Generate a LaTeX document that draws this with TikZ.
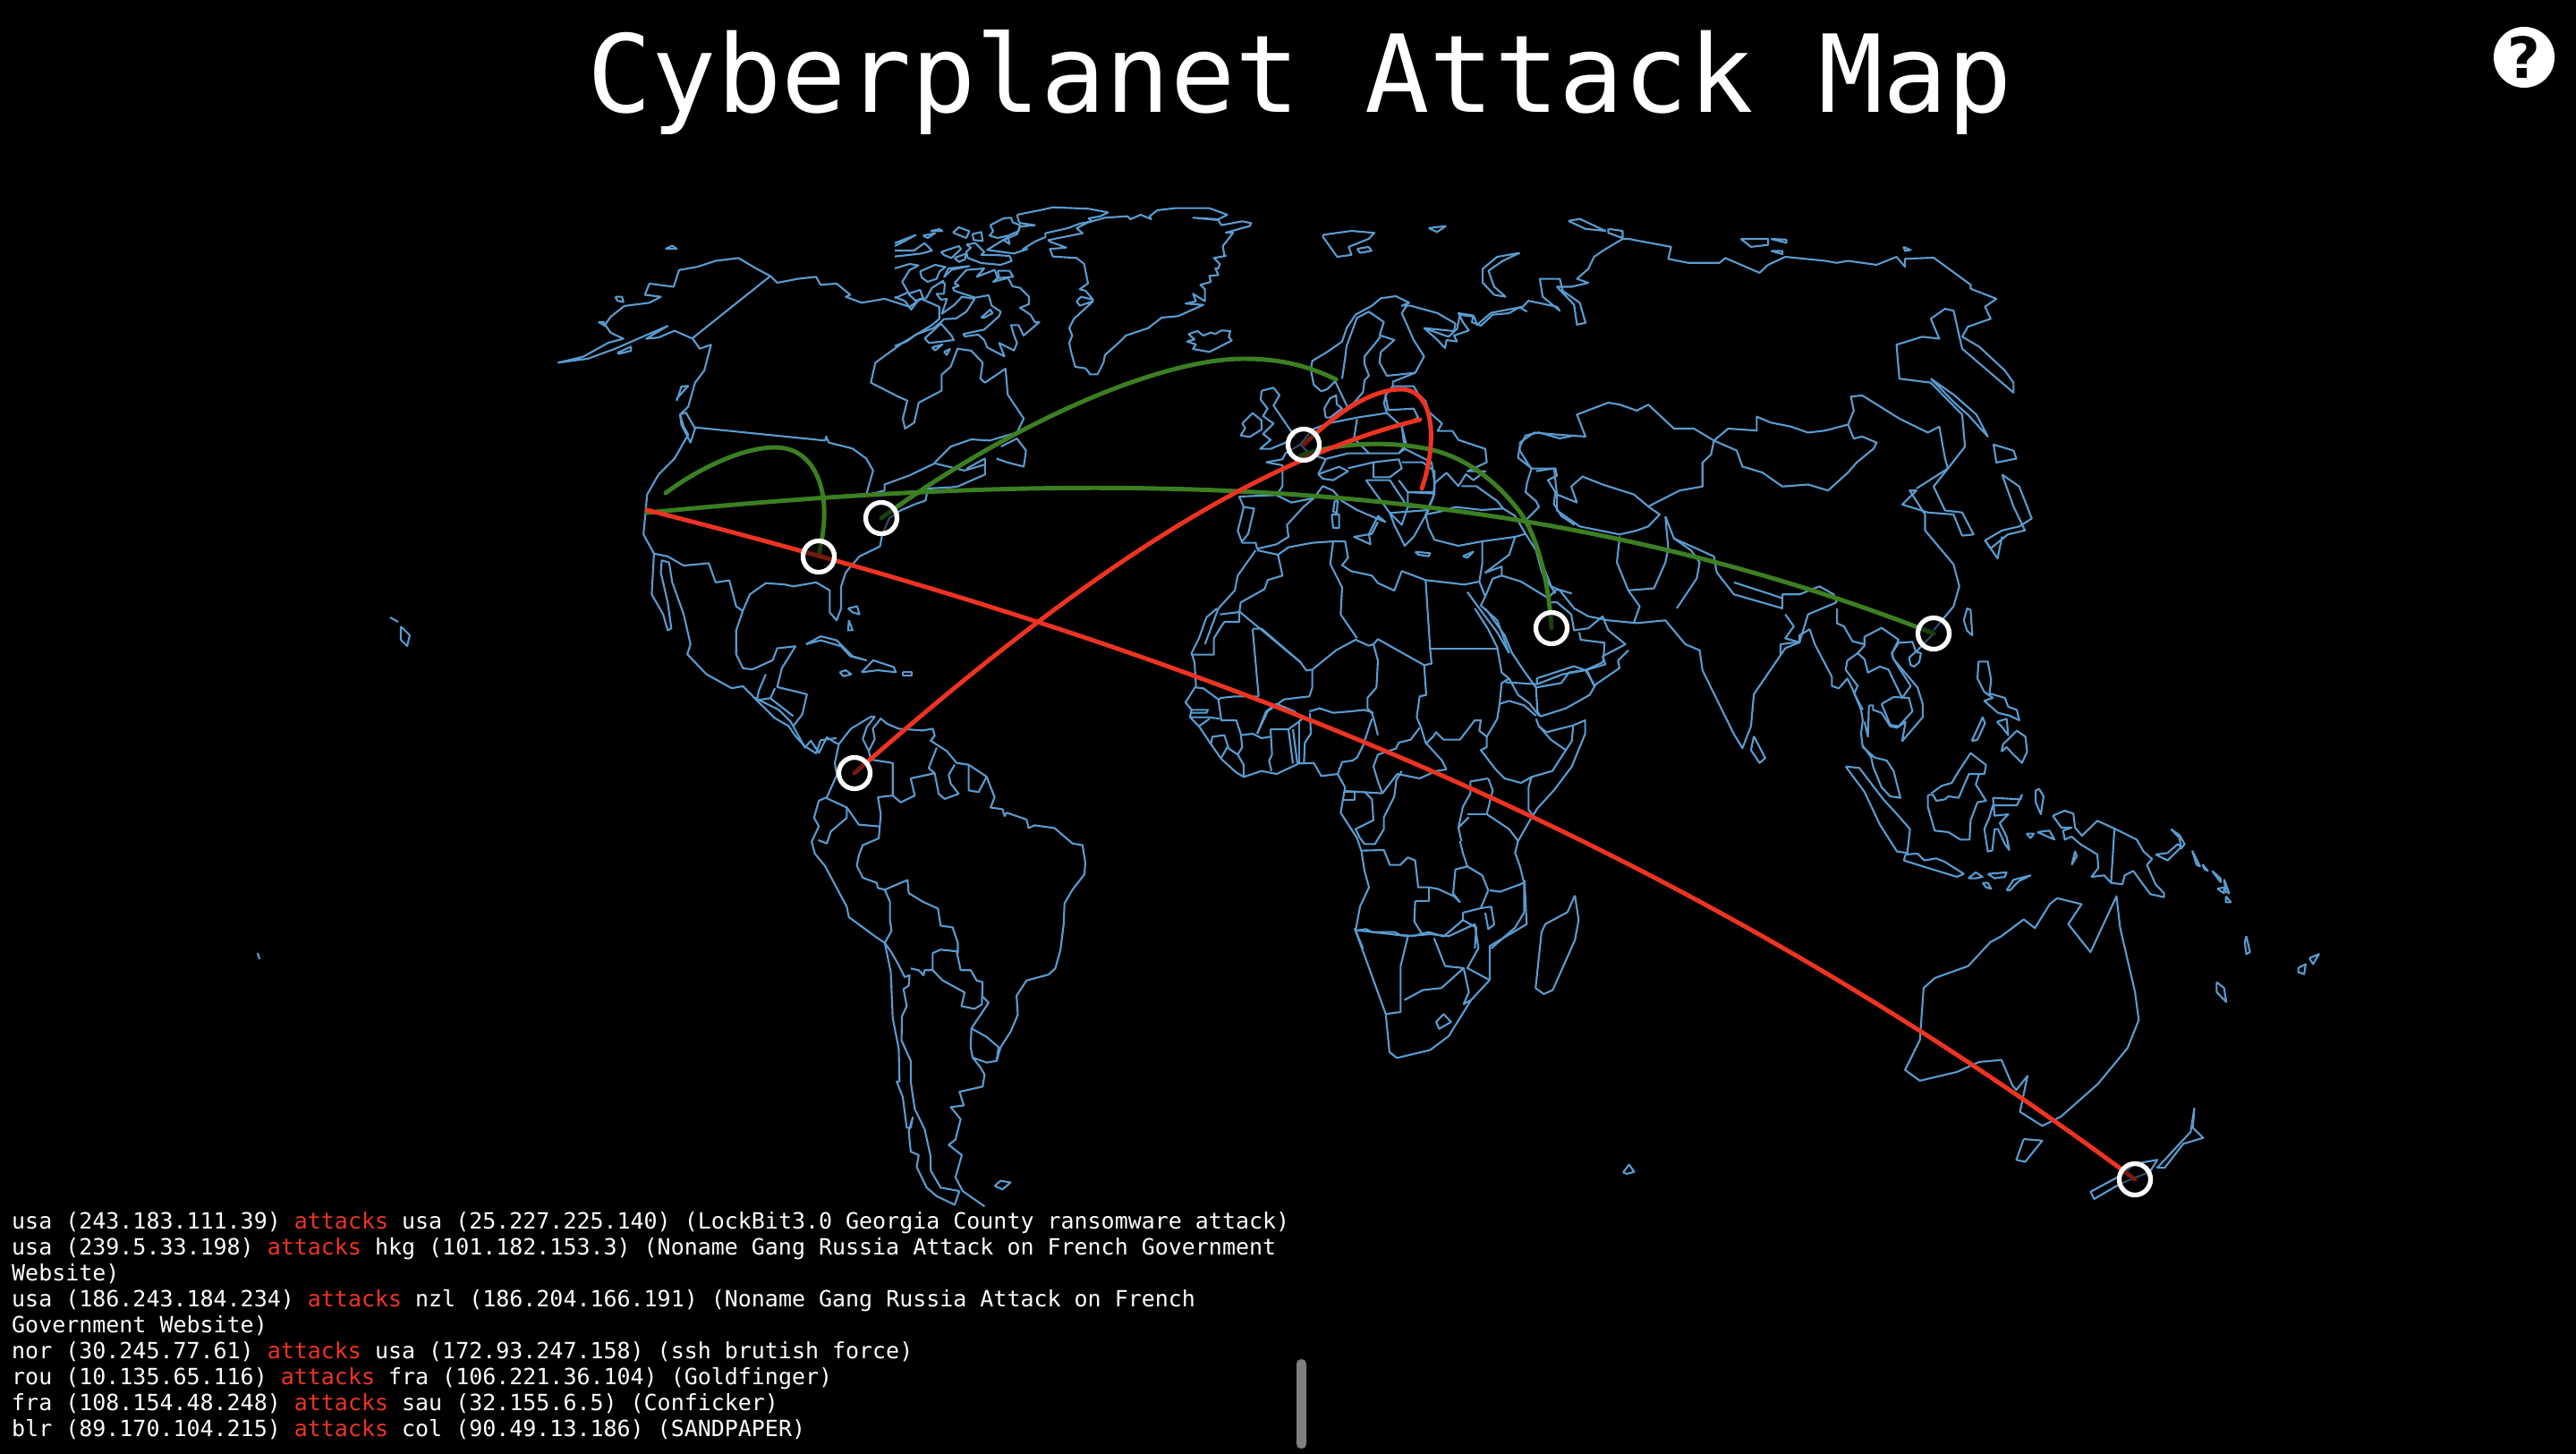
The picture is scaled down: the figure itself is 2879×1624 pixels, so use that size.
\documentclass[tikz,border=0pt]{standalone}
\usepackage{fontspec}
\usetikzlibrary{backgrounds}
\newfontfamily\monofont{DejaVu Sans Mono}
\newfontfamily\helpfont{DejaVu Sans}
\definecolor{mapblue}{HTML}{5A9BCF}
\definecolor{atkred}{HTML}{EE3322}
\definecolor{atkgreen}{HTML}{3C7F22}
\newcommand{\coast}[1]{\draw[mapline] plot coordinates {#1};}
\newcommand{\atk}{\textcolor{atkred}{attacks}}
\tikzset{
  mapline/.style={draw=mapblue,line width=0.6pt,line join=round},
  redarc/.style={draw=atkred,line width=1.4pt,line cap=round},
  greenarc/.style={draw=atkgreen,line width=1.4pt,line cap=round},
  hitring/.style={circle,draw=white,line width=1.5pt,fill=black,fill opacity=.5,minimum size=0.35cm,inner sep=0pt},
  logline/.style={anchor=base west,inner sep=0pt,text=white,font=\monofont\fontsize{7.1}{8.2}\selectfont},
  frameA/.style={shift={(560,200)},xscale=0.5102,yscale=0.4464},
  frameB/.style={shift={(1300,200)},xscale=0.6378,yscale=0.4464},
  frameC/.style={shift={(750,780)},xscale=0.4464,yscale=0.3827},
  frameD/.style={shift={(1300,640)},xscale=0.8291,yscale=0.4464},
  frameE/.style={shift={(1340,310)},xscale=0.3333,yscale=0.3333},
  frameF/.style={shift={(1990,680)},xscale=0.3827,yscale=0.3333},
  frameG/.style={shift={(1000,220)},xscale=0.3333,yscale=0.3333},
  frameH/.style={shift={(1320,680)},xscale=0.3333,yscale=0.3333},
}
\begin{document}
\begin{tikzpicture}[x=0.01cm,y=-0.01cm]
\useasboundingbox (0,0) rectangle (2879,1624);

% targets
\node[hitring] (fra) at (1457,497) {};
\node[hitring] (usaE) at (985,579) {};
\node[hitring] (usaS) at (915,622) {};
\node[hitring] (sau) at (1734,702) {};
\node[hitring] (hkg) at (2161,708) {};
\node[hitring] (col) at (955,864) {};
\node[hitring] (nzl) at (2386,1318) {};
% free ends
\coordinate (usaW) at (723,570);
\coordinate (usaH) at (723,573);
\coordinate (usaN) at (744,551);
\coordinate (nor) at (1493,424);
\coordinate (blr) at (1587,469);
\coordinate (rou) at (1589,546);
\coordinate (fraS) at (1452,510);

\node[anchor=base,inner sep=0pt,text=white,font=\monofont\fontsize{34.2}{40}\selectfont] (title) at (1453,125) {Cyberplanet Attack Map};
\node[circle,fill=white,minimum size=0.68cm,inner sep=0pt,text=black,font=\helpfont\bfseries\fontsize{18}{18}\selectfont] (help) at (2821,64) {?};

\node[logline] (logA) at (12.5,1373) {usa (243.183.111.39) \atk{} usa (25.227.225.140) (LockBit3.0 Georgia County ransomware attack)};
\node[logline] (logB) at (12.5,1402) {usa (239.5.33.198) \atk{} hkg (101.182.153.3) (Noname Gang Russia Attack on French Government};
\node[logline] (logC) at (12.5,1431) {Website)};
\node[logline] (logD) at (12.5,1460) {usa (186.243.184.234) \atk{} nzl (186.204.166.191) (Noname Gang Russia Attack on French};
\node[logline] (logE) at (12.5,1489) {Government Website)};
\node[logline] (logF) at (12.5,1518) {nor (30.245.77.61) \atk{} usa (172.93.247.158) (ssh brutish force)};
\node[logline] (logG) at (12.5,1547) {rou (10.135.65.116) \atk{} fra (106.221.36.104) (Goldfinger)};
\node[logline] (logH) at (12.5,1576) {fra (108.154.48.248) \atk{} sau (32.155.6.5) (Conficker)};
\node[logline] (logI) at (12.5,1605) {blr (89.170.104.215) \atk{} col (90.49.13.186) (SANDPAPER)};
\node[fill=black!50,rounded corners=1.5pt,minimum width=0.11cm,minimum height=1cm,inner sep=0pt] (scrollbar) at (1454.5,1569) {};

\begin{scope}[on background layer]
\fill[black] (-10,-10) rectangle (2890,1640);

% North America
\begin{scope}[frameA]
\coast{(590,243) (560,225) (520,198) (470,205) (430,220) (390,228) (378,270) (325,262) (315,290) (350,295) (325,310) (270,318) (240,345) (228,365) (240,385) (268,400) (235,410) (180,445) (125,460) (190,450) (250,425) (310,395) (365,368) (318,400) (345,397) (380,380) (420,400) (435,425) (460,415) (445,480) (425,510) (410,570) (392,590) (400,620) (410,640) (380,700) (345,740) (320,790) (312,890) (335,938) (330,1040) (355,1090) (365,1130) (373,1125) (365,1060) (350,985) (352,955) (368,960) (375,1010) (400,1090) (415,1165) (408,1190) (450,1240) (505,1275) (530,1270) (560,1305) (600,1350) (630,1370) (645,1395) (665,1420) (690,1438) (700,1405) (735,1400)}
\coast{(590,243) (420,398)}
\coast{(590,243) (605,260) (650,250) (690,245) (700,265) (735,262) (765,290) (755,295) (790,310) (840,300) (895,320) (920,300) (960,320) (960,350) (945,365) (880,410) (820,460) (810,510) (870,545) (890,555) (880,600) (885,625) (905,610) (915,560) (965,530) (965,490) (985,470) (1000,425) (1030,430) (1055,460) (1050,500) (1060,510) (1105,475) (1110,540) (1145,600) (1130,635) (1070,655) (1030,652) (985,670) (950,710)}
\coast{(425,622) (710,655) (712,645) (718,660) (770,675) (800,700) (815,730) (800,790) (790,795) (840,780) (840,765) (895,742) (950,712) (1015,730) (1060,715)}
\coast{(1095,670) (1130,650) (1150,680) (1145,720) (1110,710) (1085,700)}
\coast{(1020,725) (1060,700) (1060,740) (1000,770) (985,772)}
\coast{(985,772) (935,775) (930,805) (905,815) (875,830) (850,850) (835,890) (830,920) (785,945) (755,985) (745,1020) (745,1075) (735,1105) (720,1085) (720,1030) (690,1010) (640,1020) (620,1015) (580,1012) (545,1040) (530,1080) (515,1130) (515,1190) (530,1225) (550,1228) (595,1205) (605,1175) (645,1170) (615,1225) (605,1272) (670,1290) (660,1340) (640,1370)}
\coast{(335,938) (365,945) (400,968) (455,962) (470,1010) (500,1005) (515,1070) (530,1082)}
\coast{(580,1240) (565,1280) (560,1305) (590,1300) (600,1275)}
\coast{(590,1300) (640,1345)}
\coast{(668,1165) (700,1145) (735,1155) (770,1195) (800,1205) (765,1195) (745,1170) (700,1155) (668,1165)}
\coast{(790,1235) (815,1205) (860,1222) (865,1235) (825,1230) (790,1235)}
\coast{(742,1235) (755,1230) (767,1240) (750,1245) (742,1235)}
\coast{(880,1235) (900,1235) (900,1243) (880,1243) (880,1235)}
\coast{(760,1075) (780,1070) (785,1090) (770,1085) (760,1075)}
\coast{(762,1105) (770,1130) (760,1130) (762,1105)}
\coast{(360,175) (375,167) (385,175) (360,175)}
\coast{(250,295) (265,295) (268,308) (255,305) (250,295)}
\coast{(213,358) (225,358) (228,368) (213,358)}
\coast{(255,435) (285,420) (285,430) (258,438) (255,435)}
\coast{(392,590) (405,585) (425,625) (415,660) (395,615) (392,590)}
\coast{(385,555) (395,520) (410,518) (385,550) (385,555)}
\end{scope}

% Arctic and Greenland
\begin{scope}[frameG]
\coast{(705,70) (780,65) (790,75) (825,60) (860,75) (855,65) (880,45) (940,38) (1055,38) (1115,60) (1085,75) (1000,70) (1085,78) (1095,95) (1165,82) (1195,88) (1190,98) (1110,120) (1135,120) (1100,165) (1105,195) (1110,198) (1070,205) (1090,225) (1085,240) (1075,240) (1085,262) (1055,265) (1060,285) (1025,295) (1040,310) (1040,350) (1000,325) (1010,350) (975,358) (1035,362) (950,400) (895,405) (850,440) (775,465) (750,490) (705,530) (700,555) (680,595) (655,595) (640,575) (605,570) (590,515) (585,490) (595,465) (585,440) (600,410) (665,350) (620,365) (610,350) (625,335) (665,345) (640,315) (620,310) (648,290) (635,225) (610,205) (530,200) (520,175) (575,170) (520,150) (515,145) (630,122) (610,105) (650,85) (705,70)}
\coast{(985,460) (1015,450) (1035,465) (1060,455) (1075,460) (1095,448) (1125,450) (1120,470) (1130,482) (1055,520) (1000,510) (1010,495) (980,485) (1005,478) (985,460)}
\coast{(410,60) (500,42) (530,35) (650,40) (715,52) (690,65) (650,72) (660,82) (620,90) (580,105) (505,122) (505,135) (470,150) (430,175) (445,175) (400,190) (310,178) (355,150) (380,135) (385,158) (365,145) (410,125) (420,100) (470,95) (420,88) (415,80) (410,60)}
\coast{(320,95) (365,72) (390,70) (395,85) (420,95) (415,115) (380,130) (345,138) (318,130) (330,115) (320,95)}
\coast{(240,160) (270,155) (300,185) (290,195) (335,195) (385,198) (392,215) (355,228) (290,222) (245,205) (240,185) (255,170) (240,160)}
\coast{(155,185) (215,165) (222,175) (190,205) (165,195) (155,185)}
\coast{(200,205) (240,190) (235,210) (215,218) (200,205)}
\coast{(195,120) (215,102) (250,115) (240,138) (215,128) (195,120)}
\coast{(260,125) (290,118) (295,148) (265,145) (260,125)}
\coast{(95,130) (135,122) (110,138) (95,130)}
\coast{(120,115) (150,108) (160,115) (120,115)}
\coast{(0,155) (70,128) (30,150) (0,165)}
\coast{(0,180) (65,180) (100,155) (125,180) (90,190) (0,200)}
\coast{(0,240) (50,225) (80,230) (50,245) (25,285) (45,320) (0,340)}
\coast{(85,250) (135,228) (170,235) (150,250) (140,275) (110,285) (90,270) (85,250)}
\coast{(165,270) (180,240) (250,232) (190,245) (165,270)}
\coast{(200,290) (240,245) (300,240) (275,268) (335,245) (345,272) (330,285) (380,272) (395,300) (420,305) (450,335) (450,360) (420,372) (455,395) (470,420) (485,420) (432,465) (415,430) (390,430) (400,465) (410,490) (400,515) (350,490) (368,535) (310,505) (300,480) (280,462) (235,468) (230,460) (300,445) (350,400) (355,385) (325,365) (315,330) (270,338) (200,315) (195,305) (215,298) (200,290)}
\coast{(345,248) (385,248) (397,268) (350,272) (345,248)}
\coast{(155,285) (168,290) (165,325) (140,325) (155,345) (175,342) (158,392) (200,362) (225,335) (268,342) (240,385) (205,408) (165,410) (155,420) (130,440) (70,462) (40,485) (0,500)}
\coast{(100,475) (155,425) (190,465) (198,480) (160,485) (115,490) (100,475)}
\coast{(290,405) (320,378) (328,390) (300,405) (290,405)}
\coast{(125,505) (160,495) (135,515) (125,505)}
\coast{(165,520) (185,510) (175,530) (165,520)}
\coast{(45,325) (85,312) (95,340) (70,348) (45,325)}
\coast{(0,335) (35,350) (55,378) (80,345) (105,340) (125,305) (165,280)}
\end{scope}

% South America
\begin{scope}[frameC]
\coast{(210,0) (270,35) (300,70) (335,145) (350,125) (370,160) (390,115) (410,130) (420,135) (450,90) (500,55) (510,55) (490,85) (480,120) (495,155) (510,120) (505,90) (525,60) (540,75) (570,90) (630,95) (655,90) (660,110) (650,125) (690,155) (715,190) (745,195) (790,230) (810,290) (800,320) (830,325) (835,345) (840,335) (890,355) (895,380) (910,372) (960,380) (1005,425) (1030,430) (1037,480) (1035,515) (1005,560) (985,600) (983,660) (975,735) (962,790) (945,808) (890,825) (865,870) (868,925) (850,975) (825,1020) (815,1060) (790,1065) (755,1050) (775,1080) (785,1100) (780,1135) (722,1150) (733,1190) (700,1195) (725,1230) (712,1290) (695,1305) (728,1335) (712,1400) (730,1440) (785,1485)}
\coast{(420,135) (410,190) (415,225) (390,290) (370,300) (358,350) (370,375) (352,420) (360,455) (385,490) (440,610) (445,640) (515,700) (535,715) (550,800) (555,935) (570,1025) (572,1120) (565,1120) (580,1165) (590,1255) (600,1255) (605,1225) (595,1265) (600,1325) (620,1335) (615,1370) (640,1430) (665,1455) (710,1480) (722,1440)}
\coast{(535,715) (550,740) (565,770) (585,815) (597,810) (595,840) (582,850) (590,900) (578,930) (577,1000) (600,1060) (600,1120) (610,1200) (635,1260) (650,1340) (650,1380) (675,1430) (722,1440)}
\coast{(495,155) (500,180) (555,190) (555,285) (518,290) (525,340) (520,410) (480,430) (470,460) (465,490) (480,525) (515,540) (518,555) (535,560) (575,540) (592,532) (595,570) (630,595) (668,615) (675,665) (705,670) (718,715) (718,745)}
\coast{(388,292) (440,320) (470,370) (520,375)}
\coast{(440,320) (440,350) (400,390) (390,425) (368,415)}
\coast{(535,560) (548,595) (548,650) (552,680) (535,715)}
\coast{(655,795) (655,745) (675,735) (715,740) (725,795) (750,795) (765,825) (780,830) (778,895) (760,908) (727,900) (735,860) (680,825) (655,795) (635,795) (632,810) (620,795) (600,790)}
\coast{(778,870) (795,890) (775,925) (752,965) (750,1020) (755,1050)}
\coast{(752,965) (790,990) (820,1020) (815,1060)}
\coast{(555,285) (575,305) (610,285) (600,235) (660,220) (645,205) (665,145)}
\coast{(660,220) (670,280) (685,295) (720,280) (700,250) (695,225) (710,195)}
\coast{(745,195) (745,270) (770,275) (790,230)}
\coast{(810,1425) (825,1410) (850,1415) (830,1435) (810,1425)}
\end{scope}

% Europe
\begin{scope}[frameE]
\coast{(210,380) (250,370) (270,395) (250,430) (305,510) (320,530) (300,550) (240,575) (205,575) (240,545) (215,525) (250,490) (215,465) (230,440) (207,410) (210,380)}
\coast{(145,490) (180,455) (210,480) (210,510) (170,535) (140,530) (155,505) (145,490)}
\coast{(465,340) (430,375) (410,382) (385,360) (375,310) (380,280) (430,250) (480,215) (495,170) (525,125) (580,95) (610,70) (660,63) (705,85) (680,95) (710,95) (800,120) (860,155) (855,180) (755,170) (800,210) (825,237) (830,210) (865,215) (855,195) (905,178) (885,150) (870,120) (920,128) (915,150) (945,162) (985,125) (1040,120) (1075,100) (1100,115)}
\coast{(455,345) (498,435) (520,420) (550,385) (555,345) (570,330) (555,290) (555,265) (600,210) (610,195) (655,210) (610,250) (605,285) (630,330) (725,320) (755,265) (720,210) (680,120) (700,90)}
\coast{(480,340) (490,270) (495,230) (530,135) (570,115) (620,150) (605,195)}
\coast{(725,320) (650,350) (650,365) (720,365) (735,390) (760,415) (770,450) (815,490) (800,515) (850,515) (870,545) (960,575) (965,620) (900,650) (960,650) (920,680) (895,660) (870,700) (830,655) (790,690) (785,740) (760,795) (810,785) (860,770) (950,780) (1020,775) (1000,750) (930,700) (880,700)}
\coast{(650,365) (625,395) (635,445) (720,440) (735,470) (680,500) (630,455) (620,420) (630,385)}
\coast{(425,470) (420,440) (440,405) (460,395) (462,425) (480,440) (465,450) (440,470) (425,470)}
\coast{(225,620) (280,610) (290,590) (340,560) (380,510) (430,490) (480,480) (530,470) (630,455)}
\coast{(225,620) (280,630) (280,700) (260,730) (135,735) (150,770) (130,850) (145,890) (190,890) (195,910) (260,895) (300,870) (295,830) (350,770) (385,740)}
\coast{(150,770) (185,775) (165,860) (145,885)}
\coast{(260,730) (310,755) (385,740) (415,700) (450,715) (480,750) (530,780) (600,810) (625,820) (600,800) (570,860) (575,895) (520,870) (580,860) (600,820)}
\coast{(530,475) (520,540) (570,590) (670,590) (695,560) (680,500)}
\coast{(420,610) (500,590) (570,590)}
\coast{(400,660) (425,610) (370,590) (340,560)}
\coast{(400,660) (470,635) (500,650) (450,680) (415,675) (400,660)}
\coast{(500,640) (585,620) (670,610) (680,640) (640,670) (585,670) (585,620)}
\coast{(680,620) (750,620) (790,650) (790,720) (700,720) (670,680)}
\coast{(700,720) (790,725) (770,770) (700,770) (700,720)}
\coast{(560,680) (640,680) (700,770) (680,830) (640,790) (560,680)}
\coast{(640,790) (770,780) (720,870) (690,900) (655,830) (640,790)}
\coast{(690,575) (780,620) (790,690)}
\coast{(680,500) (690,575) (670,590)}
\coast{(725,920) (775,925) (770,935) (735,930) (725,920)}
\coast{(885,935) (920,920) (900,940) (885,935)}
\coast{(455,750) (465,750) (462,790) (450,785) (455,750)}
\coast{(445,795) (470,795) (470,840) (450,840) (445,795)}
\coast{(760,795) (770,840) (790,880) (870,900) (950,885) (1060,870) (1095,860) (1060,800) (1020,775)}
\coast{(195,915) (265,930) (300,905) (380,890) (450,885) (490,885) (500,940) (480,965) (510,985) (580,1000) (600,1025) (655,1050) (680,985) (760,1015) (890,1030) (940,1020) (950,960) (950,885)}
\coast{(190,915) (130,1000) (120,1050) (65,1110) (20,1230)}
\coast{(265,930) (280,1000) (230,1015) (220,1045) (140,1090) (135,1125)}
\coast{(450,885) (440,960) (480,1040) (475,1130) (530,1210)}
\coast{(760,1015) (775,1245)}
\coast{(900,1055) (940,1110) (1000,1190) (1040,1260)}
\coast{(940,1020) (960,1070) (945,1100) (1000,1150) (1040,1260)}
\coast{(1060,870) (1040,930) (960,990) (1015,970) (1015,1000) (985,1010) (960,1070)}
\coast{(1015,1000) (1080,1020) (1170,1075) (1200,1045) (1250,1060)}
\coast{(1095,860) (1130,915) (1150,990) (1195,1060)}
\coast{(1260,530) (1210,540) (1140,520) (1095,530) (1075,570) (1070,605) (1115,640) (1100,690) (1095,720) (1130,750) (1140,770) (1095,815)}
\coast{(1130,650) (1195,640) (1200,665) (1170,680) (1195,720) (1190,760) (1215,800) (1260,830)}
\end{scope}

% Asia
\begin{scope}[frameB]
\coast{(460,375) (500,395) (515,375) (520,340) (545,345) (550,365) (575,335) (630,320) (640,305) (690,320) (695,330) (665,295) (660,250) (695,250) (700,280) (730,310) (740,360) (725,365) (720,315) (690,270) (715,270) (745,260) (725,250) (745,225) (755,195) (770,180) (805,150) (815,150) (890,170) (885,200) (920,210) (975,210) (985,198) (1045,235) (1060,215) (1090,195) (1160,205) (1180,210) (1200,205) (1250,215) (1285,195) (1300,220) (1300,200) (1350,197) (1415,265) (1415,275) (1460,300) (1440,320) (1450,350) (1410,370) (1400,395) (1430,420) (1475,480) (1490,510) (1490,535) (1400,425) (1385,330) (1370,325) (1345,350) (1360,400) (1330,395) (1285,415) (1290,500) (1345,510) (1400,590) (1405,670) (1375,725) (1350,770) (1370,830) (1400,835) (1420,890) (1400,893) (1385,840) (1340,835) (1295,815) (1320,780) (1308,780) (1335,840) (1335,880) (1385,965) (1395,1020) (1385,1070) (1350,1130)}
\coast{(1345,500) (1385,540) (1425,590) (1445,645) (1410,590) (1390,565) (1345,500)}
\coast{(1490,680) (1495,700) (1460,710) (1455,665) (1490,680)}
\coast{(1470,740) (1500,770) (1522,850) (1500,870) (1470,880) (1440,905) (1450,925) (1480,890) (1510,880) (1490,820) (1470,740)}
\coast{(1440,905) (1462,950) (1470,895)}
\coast{(1375,725) (1320,775)}
\coast{(625,660) (650,635) (690,640) (740,645) (725,590) (780,560) (800,565) (830,580) (850,565) (895,625) (930,625) (965,655) (960,690) (945,710) (945,770) (905,780) (850,820) (825,790) (770,765) (735,745) (715,770) (725,810) (690,790) (685,725) (645,725) (640,715) (625,680) (625,660)}
\coast{(965,655) (990,625) (1040,630) (1040,595) (1065,610) (1100,620) (1130,635) (1160,630) (1200,615) (1210,580) (1205,545) (1225,542) (1290,600) (1340,635) (1360,620) (1370,700) (1375,725)}
\coast{(965,655) (1005,680) (1015,720) (1050,735) (1085,770) (1130,765) (1165,780) (1200,735) (1215,710) (1245,675) (1250,660) (1225,645) (1210,650) (1200,615)}
\coast{(690,790) (690,830) (730,870) (800,890) (830,880) (850,870) (870,840) (850,820)}
\coast{(800,895) (795,960) (815,1030) (860,1025) (880,960) (885,925) (880,845)}
\coast{(815,1030) (835,1070) (825,1110)}
\coast{(640,860) (655,930) (680,1020) (695,1030) (720,1075) (745,1095) (780,1105) (830,1112) (880,1105) (915,1165) (940,1180) (945,1230) (1000,1390) (1015,1425) (1030,1370) (1035,1290) (1090,1175) (1115,1160) (1090,1150) (1105,1120) (1090,1090)}
\coast{(1035,1395) (1055,1450) (1045,1462) (1030,1430) (1035,1395)}
\coast{(900,1075) (935,1000) (940,960) (925,930) (895,900) (880,845)}
\coast{(895,900) (965,945) (970,985) (1000,1040) (1085,1075) (1085,1040) (1115,1040) (1150,1020) (1175,1040) (1180,1060)}
\coast{(1000,1010) (1065,1040) (1085,1050)}
\coast{(1115,1160) (1130,1090) (1180,1060)}
\coast{(680,1060) (690,1060) (715,1090) (720,1130) (745,1125) (770,1095) (780,1130) (810,1165) (770,1195) (775,1215) (740,1230) (700,1240) (655,1265) (600,1260)}
\coast{(740,1230) (755,1265)}
\coast{(655,1265) (655,1250) (720,1220) (740,1230)}
\coast{(280,140) (330,130) (370,135) (360,150) (325,170) (330,190) (305,195) (280,145) (280,140)}
\coast{(340,175) (360,170) (365,180) (345,185) (340,175)}
\coast{(465,123) (495,118) (480,133) (465,123)}
\coast{(625,185) (585,195) (560,225) (560,260) (580,290) (600,295) (580,270) (570,230) (595,205) (625,185)}
\coast{(710,105) (730,100) (775,130) (740,125) (710,105)}
\coast{(780,125) (805,130) (805,148) (780,135) (780,125)}
\coast{(1012,150) (1060,150) (1060,165) (1030,170) (1012,150)}
\coast{(1065,150) (1092,152) (1092,160) (1065,150)}
\coast{(1065,180) (1085,180) (1085,188) (1065,180)}
\coast{(1297,170) (1310,178) (1300,180) (1297,170)}
\end{scope}

% South East Asia
\begin{scope}[frameF]
\coast{(0,155) (0,120) (35,115) (55,115) (55,90) (85,70) (100,120) (125,175) (150,230) (150,260) (170,268) (195,235) (210,270) (235,340) (240,375) (235,420) (240,465) (275,500) (310,510) (330,545) (350,635) (320,630) (295,600) (270,530) (265,500) (240,460)}
\coast{(258,325) (255,430) (245,380)}
\coast{(258,325) (270,325) (270,340) (295,350) (320,395) (340,400) (365,380) (355,445) (415,365) (415,320) (400,265) (330,170) (325,150) (345,115) (385,112) (395,145) (400,140) (450,80)}
\coast{(375,165) (395,145) (410,150) (405,180) (390,195) (380,190) (375,165)}
\coast{(295,320) (330,297) (375,300) (385,345) (345,395) (320,390) (295,320)}
\coast{(245,95) (295,65) (345,105) (325,150) (330,170) (380,260) (355,300) (340,265) (315,205) (290,195) (255,215) (245,170) (225,150) (245,125) (245,95)}
\coast{(225,150) (195,175) (190,205) (225,260) (215,285) (240,340)}
\coast{(165,0) (165,50) (185,60) (210,110) (245,120)}
\coast{(190,530) (230,535) (300,640) (340,690) (378,740) (370,820) (340,815) (290,725) (245,615) (190,530)}
\coast{(365,825) (400,822) (420,845) (455,838) (480,850) (535,890) (515,900) (430,870) (360,845) (365,825)}
\coast{(430,625) (445,625) (455,645) (480,640) (490,630) (520,635) (550,555) (580,555) (570,590) (600,645) (575,650) (555,710) (552,775) (525,775) (490,750) (450,745) (430,665) (430,625)}
\coast{(440,620) (470,595) (500,585) (515,555) (555,485) (600,525) (595,555) (580,555)}
\coast{(620,635) (700,640) (705,625) (690,660) (620,660) (610,700) (595,740) (605,815) (618,812) (625,740) (635,740) (655,790) (668,810) (660,765) (640,720) (665,690) (625,695) (620,635)}
\coast{(578,178) (605,178) (615,240) (610,285) (655,300) (665,330) (690,340) (697,375) (670,360) (635,350) (595,310) (620,300) (595,280) (575,235) (578,178)}
\coast{(632,380) (660,370) (665,425) (645,395) (632,380)}
\coast{(645,480) (650,455) (690,410) (715,430) (720,480) (705,518) (680,490) (660,465) (645,480)}
\coast{(558,445) (590,365) (597,385) (575,440) (558,445)}
\coast{(548,905) (570,885) (590,900) (570,905) (548,905)}
\coast{(605,890) (660,885) (655,900) (625,905) (605,890)}
\coast{(590,920) (605,920) (615,940) (600,935) (590,920)}
\coast{(660,945) (680,910) (730,895) (695,915) (670,945) (660,945)}
\coast{(718,755) (740,755) (730,770) (718,755)}
\coast{(750,750) (785,745) (800,775) (770,760) (750,750)}
\coast{(745,610) (755,605) (768,630) (760,690) (745,650) (745,610)}
\coast{(850,860) (860,815) (865,830) (850,860)}
\coast{(795,695) (830,678) (855,688) (860,735) (880,762) (925,712) (975,738) (1040,775) (1060,815) (1085,840) (1070,860) (1095,925) (1120,955) (1120,968) (1080,958) (1055,920) (1030,880) (1005,895) (998,925) (965,920) (945,895) (908,900) (928,870) (925,825) (875,790) (850,765) (830,775) (825,745) (850,735) (820,735) (795,695)}
\coast{(975,738) (965,920)}
\coast{(1095,825) (1130,820) (1160,790) (1170,800) (1130,845) (1095,825)}
\coast{(1140,740) (1165,760) (1180,790) (1170,805) (1165,770) (1140,740)}
\coast{(1202,812) (1225,865) (1215,860) (1202,812)}
\coast{(1232,858) (1248,880) (1238,875) (1232,858)}
\coast{(1260,880) (1285,905) (1285,918) (1260,880)}
\coast{(1295,908) (1310,955) (1300,950) (1295,908)}
\coast{(1275,940) (1295,935) (1295,955) (1275,940)}
\coast{(1300,965) (1315,985) (1300,985) (1300,965)}
\coast{(535,40) (545,0) (555,5) (560,90) (545,75) (535,40)}
\end{scope}

% Africa
\begin{scope}[frameH]
\coast{(120,0) (85,30) (60,100) (35,150) (45,180) (50,260) (40,275) (15,315) (35,340) (30,365) (60,395) (100,455) (135,505) (185,550) (210,565) (270,545) (320,555) (395,520) (445,518) (470,562) (525,555) (550,600) (535,685) (590,770) (605,815) (615,880) (630,935) (600,1000) (585,1080) (610,1140)}
\coast{(130,20) (195,12) (195,45) (145,45) (135,60) (110,100) (110,155) (35,155)}
\coast{(195,10) (400,180) (420,208) (440,205) (520,140) (585,105) (630,125) (645,120) (660,175) (655,265) (625,300) (625,335) (640,350) (650,385) (660,425)}
\coast{(240,70) (260,295)}
\coast{(240,68) (270,68) (400,180)}
\coast{(50,265) (75,268) (125,305) (135,300) (180,295) (260,295)}
\coast{(440,205) (440,265) (430,295) (385,300) (345,305) (290,345) (255,420)}
\coast{(645,120) (660,103) (815,190) (840,185) (835,135)}
\coast{(835,135) (1060,135)}
\coast{(815,190) (822,290) (800,295) (790,365) (805,400) (820,450) (875,510) (890,540)}
\coast{(430,345) (465,335) (510,350) (570,345) (615,340) (645,350)}
\coast{(640,370) (610,460) (590,500) (575,510) (540,515) (525,555)}
\coast{(432,350) (435,420) (415,450) (412,518)}
\coast{(395,378) (395,518)}
\coast{(375,405) (390,520)}
\coast{(300,405) (360,405) (375,520)}
\coast{(300,405) (305,490) (295,510) (303,545)}
\coast{(200,425) (240,420) (270,435) (300,430)}
\coast{(255,420) (285,345) (320,320) (380,345) (405,370) (395,380) (360,405)}
\coast{(125,305) (135,375) (185,375) (200,420) (205,465) (190,490) (210,525) (210,565)}
\coast{(100,455) (105,430) (145,425) (160,470) (190,490)}
\coast{(135,500) (155,465)}
\coast{(35,340) (90,340) (85,350) (35,350)}
\coast{(30,365) (95,365) (130,370)}
\coast{(60,395) (95,370)}
\coast{(660,490) (720,470) (730,450) (770,440) (800,400)}
\coast{(675,620) (725,555) (800,570) (855,545) (890,540)}
\coast{(660,490) (645,530) (660,580) (675,620)}
\coast{(550,612) (675,620)}
\coast{(550,615) (582,615) (582,642) (545,642)}
\coast{(615,615) (640,640) (645,710) (605,730) (585,740) (600,770) (615,790) (650,790) (680,740) (680,700) (715,630) (722,575) (740,545)}
\coast{(820,455) (845,430) (855,415) (880,440) (935,440) (985,375) (1005,375) (1000,410) (1025,430) (1025,465) (1005,475) (1055,540)}
\coast{(1025,430) (1060,370) (1068,320) (1100,310) (1150,325) (1190,360)}
\coast{(1068,320) (1075,250) (1100,235)}
\coast{(1200,395) (1240,440) (1290,475) (1310,445) (1315,395)}
\coast{(1055,540) (1085,570) (1140,585) (1175,565) (1245,545) (1290,475)}
\coast{(1175,565) (1165,600) (1165,675) (1185,700)}
\coast{(1030,570) (1045,610) (1025,690)}
\coast{(970,580) (1030,570)}
\coast{(970,580) (970,620) (945,665) (930,735) (940,780)}
\coast{(1025,690) (1100,740) (1130,780)}
\coast{(960,690) (1025,690)}
\coast{(930,735) (965,700)}
\coast{(935,780) (945,820) (960,865) (920,875) (912,955) (935,985) (915,965) (860,940) (830,935) (795,935) (785,845) (760,835) (735,860) (700,860) (680,810) (605,812)}
\coast{(785,980) (830,980) (830,935)}
\coast{(785,980) (782,1050) (810,1095)}
\coast{(1035,945) (1070,950) (1150,920)}
\coast{(960,865) (1010,895) (1030,945) (1005,1005) (1040,1000) (1050,1060) (1030,1075) (1020,1020)}
\coast{(945,1020) (1005,1005)}
\coast{(945,1020) (945,1045) (990,1070) (985,1140)}
\coast{(590,1080) (620,1075) (640,1085) (715,1085) (735,1095) (780,1098) (830,1085) (880,1100) (945,1045)}
\coast{(985,0) (1030,70) (1060,130) (1075,215) (1100,235) (1130,290) (1170,320) (1200,360)}
\coast{(1020,0) (1085,90) (1110,150) (1150,210) (1190,265) (1195,345) (1205,362) (1290,335) (1370,290) (1390,255) (1470,200) (1465,175) (1500,140)}
\coast{(1190,265) (1275,250) (1300,215) (1360,205) (1415,180) (1420,115) (1340,105) (1335,80)}
\coast{(1360,205) (1385,260)}
\coast{(1190,370) (1200,395) (1225,415) (1315,392) (1355,375) (1355,420) (1310,530) (1250,610) (1195,670) (1170,710) (1130,780) (1120,820) (1135,860) (1150,920) (1150,1020) (1120,1070) (1040,1140)}
\end{scope}

% Southern Africa, Madagascar, Australia, New Zealand
\begin{scope}[frameD]
\coast{(258,890) (300,1105) (305,1200) (315,1215) (360,1195) (385,1160) (415,1070) (440,1020) (440,935) (490,880) (487,770)}
\coast{(555,808) (560,870) (555,920) (525,1045) (513,1055) (502,1040) (510,900) (515,880) (545,850) (555,808)}
\coast{(260,895) (330,910) (360,905) (385,910) (420,880) (425,940) (410,990) (440,1020)}
\coast{(330,910) (320,985) (320,1100) (300,1105)}
\coast{(365,915) (380,985) (405,990) (375,1040) (350,1045) (325,1070)}
\coast{(405,990) (412,1050) (405,1080) (415,1070)}
\coast{(378,1105) (388,1125) (372,1142) (368,1125) (378,1105)}
\coast{(1205,815) (1238,830) (1220,880) (1250,950) (1285,810) (1290,890) (1310,1050) (1315,1120) (1300,1190) (1260,1280) (1210,1362) (1185,1385) (1155,1350) (1165,1260) (1150,1295) (1145,1285) (1130,1220) (1100,1225) (1070,1250) (1020,1272) (1000,1245) (1020,1170) (1025,1040) (1040,1015) (1085,985) (1115,925) (1130,910) (1160,868) (1175,890) (1195,830) (1205,815)}
\coast{(1160,1418) (1185,1422) (1162,1475) (1150,1470) (1160,1418)}
\coast{(1390,1340) (1388,1390) (1402,1415) (1375,1430) (1350,1490) (1340,1490) (1370,1430) (1385,1400) (1390,1340)}
\coast{(1310,1480) (1340,1470) (1330,1500) (1290,1530) (1255,1568) (1250,1550) (1290,1510) (1310,1480)}
\coast{(1420,1025) (1430,1040) (1433,1075) (1420,1050) (1420,1025)}
\coast{(1460,910) (1465,950) (1460,955) (1458,925) (1460,910)}
\coast{(1530,990) (1540,980) (1538,1005) (1530,1000) (1530,990)}
\coast{(1545,965) (1558,955) (1550,980) (1545,965)}
\coast{(620,1502) (628,1482) (635,1500) (625,1505) (620,1502)}
\end{scope}

% Hawaii and the far south
\coast{(436,690) (445,695)}
\coast{(448,700) (458,710) (455,722) (448,715) (448,700)}
\coast{(288,1065) (290,1072)}

% attacks
\draw[greenarc] (usaN) .. controls (780,524) and (830,500) .. (866,500) .. controls (910,500) and (923,545) .. (921,580) .. controls (920,600) and (917,610) .. (usaS.center);
\draw[greenarc] (usaH) .. controls (1202,526) and (1682,520) .. (hkg.center);
\draw[greenarc] (nor) .. controls (1460,408) and (1430,401) .. (1390,401) .. controls (1290,401) and (1120,480) .. (usaE.center);
\draw[greenarc] (fraS) .. controls (1490,495) and (1550,492) .. (1597,502) .. controls (1635,510) and (1670,535) .. (1697,570) .. controls (1720,600) and (1731,655) .. (sau.center);
\draw[redarc] (usaW) .. controls (1277,711) and (1832,905) .. (nzl.center);
\draw[redarc] (col.center) .. controls (1165,680) and (1376,520) .. (blr);
\draw[redarc] (fra.center) .. controls (1490,465) and (1530,435) .. (1567,435) .. controls (1606,437) and (1605,500) .. (rou);
\end{scope}
\end{tikzpicture}
\end{document}
